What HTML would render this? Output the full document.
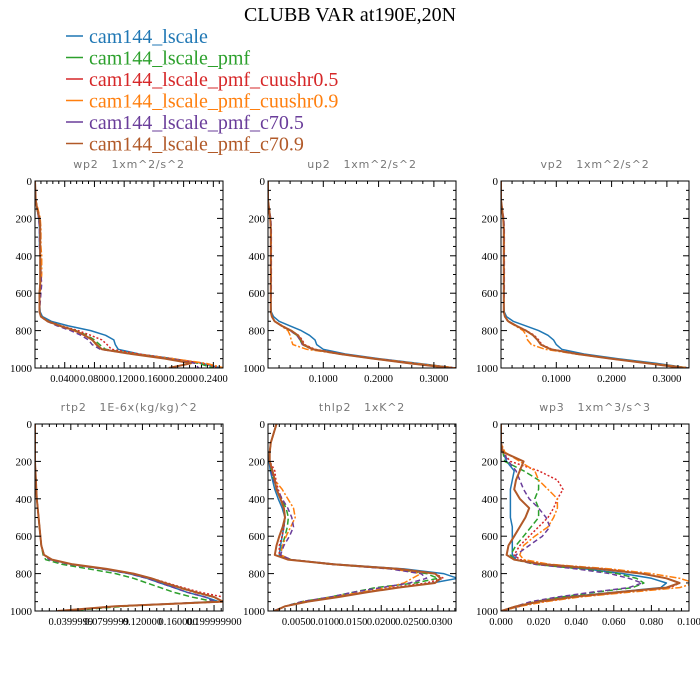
<!DOCTYPE html>
<html><head><meta charset="utf-8">
<style>
html,body{margin:0;padding:0;background:#fff;}
svg{display:block;}
</style></head>
<body>
<svg id="fig" width="700" height="700" viewBox="0 0 700 700" xmlns="http://www.w3.org/2000/svg">
<rect width="700" height="700" fill="#fff"/>
<text x="350" y="21" text-anchor="middle" font-family="Liberation Serif, serif" font-size="20">CLUBB VAR at190E,20N</text>
<g id="legend"></g>
<g id="panels"></g>
</svg>
<script>
const seriesNames = ["cam144_lscale","cam144_lscale_pmf","cam144_lscale_pmf_cuushr0.5","cam144_lscale_pmf_cuushr0.9","cam144_lscale_pmf_c70.5","cam144_lscale_pmf_c70.9"];
const levels = [0,100,150,200,250,300,350,400,450,500,550,600,650,700,725,750,775,800,825,850,875,900,925,950,975,1000];
const yTicks = [0,200,400,600,800,1000];

const wp2Ticks = ["0.0400","0.0800","0.1200","0.1600","0.2000","0.2400"];
const wp2Vals = [0.04,0.08,0.12,0.16,0.20,0.24];
const wp2 = [
 [0,.001,.003,.005,.006,.006,.006,.007,.007,.007,.007,.006,.006,.007,.010,.022,.045,.075,.095,.106,.108,.112,.140,.185,.225,.25],
 [0,.001,.003,.006,.007,.007,.007,.007,.008,.008,.007,.006,.006,.006,.008,.018,.035,.055,.070,.080,.087,.095,.135,.180,.220,.24],
 [0,.001,.003,.006,.007,.007,.007,.007,.008,.008,.007,.006,.006,.006,.008,.018,.036,.058,.075,.090,.097,.103,.140,.185,.225,.25],
 [0,.001,.004,.007,.008,.008,.008,.009,.009,.009,.008,.007,.006,.006,.008,.017,.033,.052,.066,.077,.082,.090,.135,.185,.230,.255],
 [0,.001,.003,.005,.006,.006,.006,.007,.007,.008,.009,.008,.007,.006,.008,.016,.030,.048,.062,.072,.077,.088,.130,.180,.215,.22],
 [0,.001,.003,.006,.007,.007,.007,.007,.007,.007,.007,.006,.006,.006,.008,.017,.034,.054,.067,.077,.083,.090,.130,.175,.210,.18]
];
const up2Ticks = ["0.1000","0.2000","0.3000"];
const up2Vals = [0.1,0.2,0.3];
const up2 = [
 [0,0,.002,.004,.005,.005,.005,.005,.005,.005,.005,.005,.005,.006,.010,.020,.040,.060,.075,.085,.088,.100,.140,.200,.270,.34],
 [0,0,.002,.004,.005,.005,.005,.005,.005,.005,.005,.005,.005,.005,.007,.012,.025,.040,.052,.058,.062,.080,.130,.190,.260,.34],
 [0,0,.002,.004,.005,.005,.005,.005,.005,.005,.005,.005,.005,.005,.007,.012,.026,.042,.055,.062,.066,.085,.135,.195,.265,.34],
 [0,0,.002,.004,.005,.006,.006,.006,.006,.006,.005,.005,.005,.005,.007,.012,.024,.036,.040,.042,.045,.070,.130,.195,.265,.34],
 [0,0,.002,.005,.006,.006,.006,.006,.006,.006,.006,.006,.005,.005,.007,.012,.025,.040,.052,.058,.062,.080,.130,.190,.255,.33],
 [0,0,.002,.004,.005,.005,.005,.005,.005,.005,.005,.005,.005,.005,.007,.012,.025,.042,.054,.060,.064,.082,.130,.190,.255,.33]
];
const vp2Ticks = ["0.1000","0.2000","0.3000"];
const vp2Vals = [0.1,0.2,0.3];
const vp2 = [
 [0,0,.002,.004,.005,.005,.005,.005,.005,.005,.005,.005,.005,.006,.010,.022,.045,.068,.085,.095,.100,.110,.150,.210,.280,.34],
 [0,0,.002,.004,.005,.005,.005,.005,.005,.005,.005,.005,.005,.005,.007,.013,.028,.045,.058,.066,.072,.090,.140,.200,.270,.34],
 [0,0,.002,.004,.005,.005,.005,.005,.005,.005,.005,.005,.005,.005,.007,.013,.028,.046,.060,.068,.074,.092,.142,.200,.270,.34],
 [0,0,.002,.004,.005,.006,.006,.006,.006,.006,.005,.005,.005,.005,.007,.012,.026,.040,.046,.048,.055,.080,.135,.200,.270,.34],
 [0,0,.002,.005,.006,.006,.006,.006,.006,.006,.006,.006,.005,.005,.007,.013,.028,.045,.058,.066,.072,.090,.138,.198,.265,.33],
 [0,0,.002,.004,.005,.005,.005,.005,.005,.005,.005,.005,.005,.005,.007,.013,.028,.045,.058,.066,.072,.090,.138,.198,.265,.33]
];
const rtp2Ticks = ["0.0399999","0.0799999","0.120000","0.160000","0.199999900"];
const rtp2Vals = [0.04,0.08,0.12,0.16,0.20];
const rtp2 = [
 [0,0,0,0,.0005,.001,.0015,.002,.003,.004,.005,.006,.007,.010,.018,.040,.075,.105,.125,.140,.155,.170,.190,.205,.090,.030],
 [0,0,0,0,.0005,.001,.0015,.002,.003,.004,.005,.006,.007,.009,.012,.030,.060,.090,.110,.125,.140,.155,.175,.200,.100,.035],
 [0,0,0,0,.0005,.001,.0015,.002,.003,.004,.005,.006,.007,.010,.018,.040,.078,.110,.130,.148,.165,.185,.210,.215,.090,.030],
 [0,0,0,0,.0005,.001,.0015,.002,.003,.004,.005,.006,.007,.010,.018,.041,.078,.108,.128,.145,.160,.178,.200,.210,.090,.030],
 [0,0,0,0,.0005,.001,.0015,.002,.003,.004,.005,.006,.007,.010,.016,.038,.075,.105,.125,.140,.155,.170,.190,.200,.090,.030],
 [0,0,0,0,.0005,.001,.0015,.002,.003,.004,.005,.006,.007,.010,.019,.042,.080,.110,.130,.145,.162,.180,.200,.210,.090,.025]
];
const thlp2Ticks = ["0.0050","0.0100","0.0150","0.0200","0.0250","0.0300"];
const thlp2Vals = [0.005,0.01,0.015,0.02,0.025,0.03];
const thlp2 = [
 [.0015,.0005,.0003,.0002,.0004,.0008,.0012,.0018,.0025,.0030,.0028,.0025,.0022,.0020,.0040,.0120,.0240,.0310,.0335,.0290,.0230,.0170,.0120,.0070,.0030,.0010],
 [.0015,.0005,.0003,.0003,.0006,.0010,.0016,.0024,.0032,.0036,.0034,.0030,.0025,.0022,.0040,.0110,.0220,.0280,.0300,.0260,.0190,.0150,.0110,.0060,.0030,.0010],
 [.0015,.0005,.0003,.0003,.0012,.0014,.0018,.0024,.0028,.0030,.0028,.0025,.0020,.0020,.0040,.0120,.0235,.0295,.0310,.0280,.0220,.0170,.0120,.0070,.0030,.0012],
 [.0015,.0005,.0003,.0003,.0008,.0012,.0025,.0035,.0045,.0048,.0040,.0032,.0026,.0022,.0040,.0110,.0220,.0270,.0255,.0240,.0210,.0165,.0115,.0065,.0030,.0010],
 [.0015,.0005,.0003,.0003,.0006,.0010,.0016,.0025,.0035,.0042,.0045,.0038,.0028,.0022,.0040,.0110,.0215,.0270,.0280,.0250,.0200,.0150,.0110,.0060,.0030,.0010],
 [.0015,.0005,.0003,.0003,.0008,.0012,.0015,.0022,.0028,.0030,.0026,.0020,.0015,.0012,.0035,.0115,.0230,.0295,.0305,.0295,.0230,.0175,.0125,.0070,.0030,.0012]
];
const wp3Ticks = ["0.000","0.020","0.040","0.060","0.080","0.100"];
const wp3Vals = [0,0.02,0.04,0.06,0.08,0.10];
const wp3 = [
 [0,0,.001,.003,.007,.006,.005,.005,.005,.005,.006,.006,.006,.006,.008,.020,.045,.065,.080,.088,.085,.060,.035,.020,.010,0],
 [0,0,.001,.002,.012,.020,.020,.018,.020,.020,.016,.012,.008,.005,.007,.018,.042,.062,.072,.076,.070,.050,.032,.018,.008,0],
 [0,0,.001,.005,.020,.030,.033,.030,.028,.025,.020,.015,.010,.007,.010,.025,.055,.075,.088,.095,.090,.065,.040,.022,.010,0],
 [0,0,.002,.010,.018,.020,.025,.030,.030,.028,.025,.018,.012,.010,.012,.026,.058,.080,.095,.103,.095,.068,.042,.024,.010,0],
 [0,0,.001,.004,.008,.010,.012,.015,.020,.024,.026,.022,.015,.008,.008,.018,.040,.058,.068,.075,.068,.048,.030,.016,.008,0],
 [0,0,.001,.012,.010,.008,.007,.010,.015,.013,.010,.007,.004,.003,.007,.022,.052,.075,.088,.095,.088,.062,.038,.020,.008,0]
];

const colors = ["#1f77b4","#2ca02c","#d62728","#ff7f0e","#6a3d9a","#b15928"];
const dashes = ["none","6,3","2,2","7,2,2,2","5,3","none"];
const widths = [1.5,1.5,1.5,1.5,1.5,2];

const NS="http://www.w3.org/2000/svg";
function mk(tag,attrs,parent){const e=document.createElementNS(NS,tag);for(const k in attrs)e.setAttribute(k,attrs[k]);parent.appendChild(e);return e;}

const leg=document.getElementById('legend');
seriesNames.forEach((n,i)=>{
  const y=36+i*21.5;
  const g=mk('g',{},leg);
  
  
  mk('line',{x1:66,x2:83,y1:y,y2:y,stroke:colors[i],'stroke-width':1.5},g);
  const t=mk('text',{x:89,y:y+7,'font-family':'Liberation Serif, serif','font-size':20,fill:colors[i]},g);
  t.textContent=n;
});

const panels=[
 {name:'wp2',title:'wp2   1xm^2/s^2',x0:35,y0:181,xmax:0.253,data:wp2,tv:wp2Vals,tl:wp2Ticks},
 {name:'up2',title:'up2   1xm^2/s^2',x0:268,y0:181,xmax:0.34,data:up2,tv:up2Vals,tl:up2Ticks},
 {name:'vp2',title:'vp2   1xm^2/s^2',x0:501,y0:181,xmax:0.34,data:vp2,tv:vp2Vals,tl:vp2Ticks},
 {name:'rtp2',title:'rtp2   1E-6x(kg/kg)^2',x0:35,y0:424,xmax:0.21,data:rtp2,tv:rtp2Vals,tl:rtp2Ticks},
 {name:'thlp2',title:'thlp2   1xK^2',x0:268,y0:424,xmax:0.0332,data:thlp2,tv:thlp2Vals,tl:thlp2Ticks},
 {name:'wp3',title:'wp3   1xm^3/s^3',x0:501,y0:424,xmax:0.1,data:wp3,tv:wp3Vals,tl:wp3Ticks}
];
const W=188,H=187;
const root=document.getElementById('panels');
panels.forEach(p=>{
  const g=mk('g',{},root);
  
  
  const xs=v=>p.x0+v/p.xmax*W;
  const ys=v=>p.y0+v/1000*H;
  const tt=mk('text',{x:p.x0+W/2,y:p.y0-13,'text-anchor':'middle','font-family':'DejaVu Sans, sans-serif','font-size':11,fill:'#777','letter-spacing':'0.8','xml:space':'preserve'},g);
  tt.setAttribute('style','white-space:pre');
  
  
  tt.textContent=p.title;
  const cid='clip-'+p.name;
  const cp=mk('clipPath',{id:cid},g);
  mk('rect',{x:p.x0,y:p.y0,width:W,height:H},cp);
  const lines=mk('g',{'clip-path':'url(#'+cid+')'},g);
  p.data.forEach((arr,si)=>{
    const pts=arr.map((v,k)=>xs(v).toFixed(1)+','+ys(levels[k]).toFixed(1)).join(' ');
    const pl=mk('polyline',{points:pts,fill:'none',stroke:colors[si],'stroke-width':widths[si],'stroke-dasharray':dashes[si],'stroke-linejoin':'round'},lines);
    
    
  });
  const fr=mk('rect',{x:p.x0,y:p.y0,width:W,height:H,fill:'none',stroke:'#000','stroke-width':1},g);
  
  
  for(let v=0;v<=1000;v+=50){
    const y=ys(v),L=(v%200===0)?6:3;
    mk('line',{x1:p.x0,x2:p.x0+L,y1:y,y2:y,stroke:'#000','stroke-width':1},g);
    mk('line',{x1:p.x0+W,x2:p.x0+W-L,y1:y,y2:y,stroke:'#000','stroke-width':1},g);
  }
  yTicks.forEach(v=>{
    const t=mk('text',{x:p.x0-3,y:ys(v)+4,'text-anchor':'end','font-family':'Liberation Serif, serif','font-size':11},g);
    
    
    t.textContent=v;
  });
  const step=p.tv[1]-p.tv[0];
  for(let v=0;v<=p.xmax+1e-9;v+=step/5){
    const x=xs(v),maj=Math.abs(v/step-Math.round(v/step))<1e-6,L=maj?6:3;
    mk('line',{x1:x,x2:x,y1:p.y0,y2:p.y0+L,stroke:'#000','stroke-width':1},g);
    mk('line',{x1:x,x2:x,y1:p.y0+H,y2:p.y0+H-L,stroke:'#000','stroke-width':1},g);
  }
  p.tv.forEach((v,i)=>{
    const t=mk('text',{x:xs(v),y:p.y0+H+14,'text-anchor':'middle','font-family':'Liberation Serif, serif','font-size':10.5},g);
    
    
    t.textContent=p.tl[i];
  });
});
</script>
</body></html>
